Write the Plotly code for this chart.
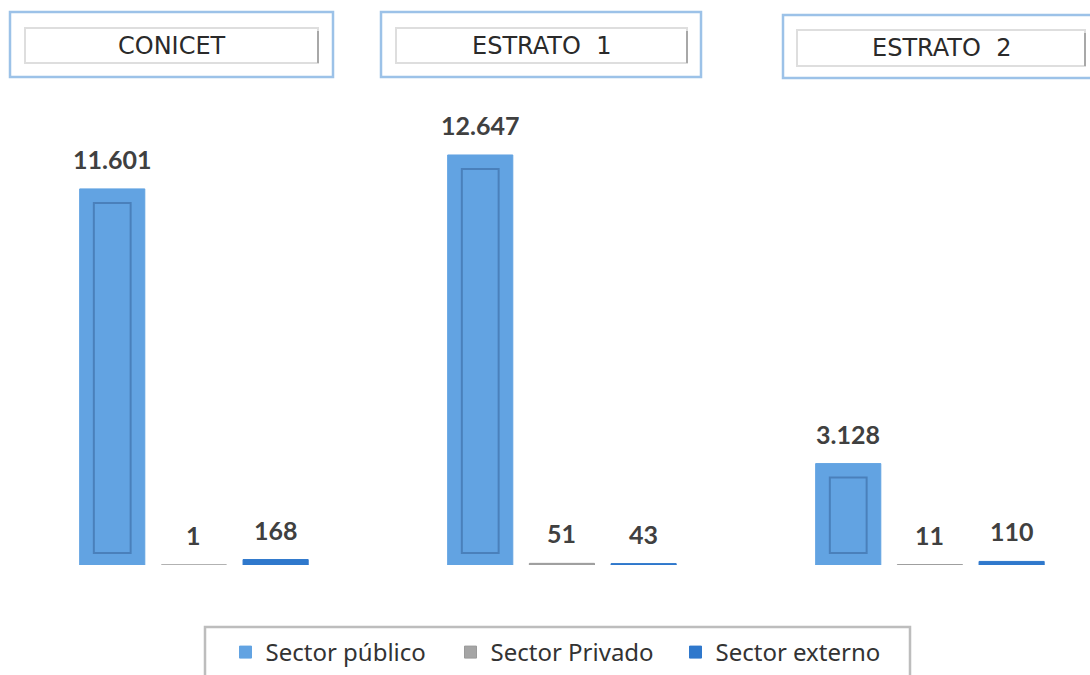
import plotly.graph_objects as go

# ---------------- data ----------------
categories = ["CONICET", "ESTRATO 1", "ESTRATO 2"]
header_labels = ["CONICET", "ESTRATO  1", "ESTRATO  2"]
series_names = ["Sector público", "Sector Privado", "Sector externo"]
sector_publico = [11601, 12647, 3128]
sector_privado = [1, 51, 11]
sector_externo = [168, 43, 110]
series_values = [sector_publico, sector_privado, sector_externo]

# ---------------- style ----------------
W, H = 1090, 675
M_T, M_B = 100, 110
PLOT_H = H - M_T - M_B
colors = ["#62a3e2", "#a5a5a5", "#2f78cc"]
line_colors = ["#62a3e2", "#9a9a9a", "#2f78cc"]
bar_width = 0.177
bar_step = 0.222
x_range = [-0.527, 2.435]
y_max = 14343
px_per_unit = PLOT_H / y_max


def fmt(v):
    return f"{v:,}".replace(",", ".")


def paper_x(px):
    return px / W


def paper_y(py):
    return (H - M_B - py) / PLOT_H


fig = go.Figure()

centers = [-bar_step, 0.0, bar_step]
for name, vals, c, lc, ctr in zip(series_names, series_values, colors, line_colors, centers):
    fig.add_trace(go.Bar(
        x=categories, y=vals, name=name,
        width=bar_width, offset=ctr - bar_width / 2,
        marker=dict(color=c, line=dict(color=lc, width=1)),
        hoverinfo="x+y+name",
    ))

# bevel (inner frame) on the tall bars
inset_top = 14 / px_per_unit
inset_bot = 12 / px_per_unit
inner_w = 0.10
bev_base = [inset_bot for v in sector_publico]
bev_h = [v - inset_top - inset_bot for v in sector_publico]
fig.add_trace(go.Bar(
    x=categories, y=bev_h, base=bev_base,
    width=inner_w, offset=centers[0] - inner_w / 2,
    marker=dict(color="rgba(98,163,226,0.0)", line=dict(color="#4a80bb", width=2)),
    showlegend=False, hoverinfo="skip",
))

# value labels
for vals, ctr in zip(series_values, centers):
    for i, v in enumerate(vals):
        fig.add_annotation(
            x=i + ctr, y=v, xref="x", yref="y",
            text=f"<b>{fmt(v)}</b>", showarrow=False,
            yanchor="middle", yshift=30,
            font=dict(family="Lato", size=25, color="#404040"),
        )

# header boxes
headers_px = [
    (10, 12, 333, 77, 25, 28, 318, 63),
    (381, 12, 701, 77, 396, 28, 687, 63),
    (783, 15, 1100, 78, 797, 30, 1085, 66),
]
for label, (ox0, oy0, ox1, oy1, ix0, iy0, ix1, iy1) in zip(header_labels, headers_px):
    fig.add_shape(type="rect", xref="paper", yref="paper",
                  x0=paper_x(ox0), x1=paper_x(ox1), y0=paper_y(oy1), y1=paper_y(oy0),
                  line=dict(color="#9cc2e8", width=2.5), fillcolor="white", layer="above")
    fig.add_shape(type="rect", xref="paper", yref="paper",
                  x0=paper_x(ix0), x1=paper_x(ix1), y0=paper_y(iy1), y1=paper_y(iy0),
                  line=dict(color="#dedede", width=2), fillcolor="white", layer="above")
    fig.add_shape(type="line", xref="paper", yref="paper",
                  x0=paper_x(ix1), x1=paper_x(ix1), y0=paper_y(iy1), y1=paper_y(iy0 + 3),
                  line=dict(color="#a8a8a8", width=2), layer="above")
    fig.add_annotation(
        x=paper_x((ix0 + ix1) / 2), y=paper_y((iy0 + iy1) / 2), xref="paper", yref="paper",
        text=label, showarrow=False, xanchor="center", yanchor="middle",
        font=dict(family="DejaVu Sans", size=24, color="#2a2a2a"),
    )

# legend frame
fig.add_shape(type="rect", xref="paper", yref="paper",
              x0=paper_x(205), x1=paper_x(910), y0=paper_y(720), y1=paper_y(627),
              line=dict(color="#bdbdbd", width=2.5), fillcolor="rgba(0,0,0,0)", layer="above")

fig.update_layout(
    width=W, height=H,
    margin=dict(l=0, r=0, t=M_T, b=M_B),
    paper_bgcolor="white", plot_bgcolor="white",
    barmode="overlay",
    showlegend=True,
    legend=dict(
        orientation="h", x=paper_x(563), xanchor="center",
        y=paper_y(653), yanchor="middle",
        font=dict(family="Noto Sans", size=24, color="#333333"),
        entrywidth=180, itemwidth=30,
        bgcolor="rgba(0,0,0,0)",
    ),
    xaxis=dict(range=x_range, showticklabels=False, showgrid=False, zeroline=False,
               showline=False, ticks="", fixedrange=True),
    yaxis=dict(range=[0, y_max], showticklabels=False, showgrid=False, zeroline=False,
               showline=False, ticks="", fixedrange=True),
)

fig.write_html(
    "out.html",
    config={"displayModeBar": False},
    post_script="document.body.style.margin='0';document.body.style.overflow='hidden';",
)
